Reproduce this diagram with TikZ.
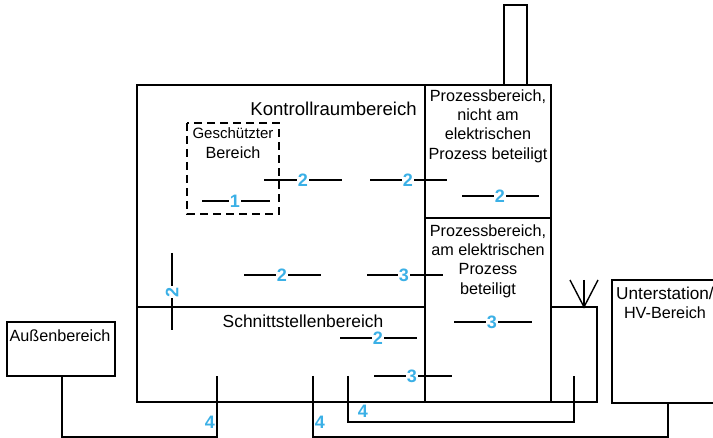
\documentclass[tikz,border=0pt]{standalone}
\usepackage{fontspec}
\setmainfont{Liberation Sans}
\definecolor{numblue}{HTML}{3BB0E6}
\begin{document}
\begin{tikzpicture}[x=1pt,y=-1pt,
  thickbox/.style={line width=2.8pt},
  midline/.style={line width=2.3pt},
  thinline/.style={line width=1.4pt},
  link/.style={line width=1.4pt},
  num/.style={text=numblue, font=\fontsize{18}{18}\selectfont\bfseries, inner sep=0.8pt, fill=white},
  lbl/.style={font=\fontsize{16.2}{19.3}\selectfont, align=center, inner sep=0pt},
]
\useasboundingbox (0,0) rectangle (713,438);
\begin{scope}
\clip (0,0) rectangle (713,438);
% main areas
\draw[thickbox] (137,85) rectangle (551,402);
\draw[thickbox] (425,85) -- (425,402);
\draw[thickbox] (425,218) -- (551,218);
\draw[midline] (137,307) -- (425,307);
% chimney
\draw[thinline] (504,85) -- (504,5) -- (527,5) -- (527,85);
% antenna box
\draw[thinline] (551,307) -- (597,307) -- (597,402) -- (551,402);
\coordinate (ap) at (584,307);
\coordinate (al) at (570,280);
\coordinate (ar) at (598,280);
\coordinate (am) at (584,280);
\draw[thinline] (al) -- (ap) -- (ar);
\draw[thinline] (am) -- (ap);
% protected area
\draw[thinline, dash pattern=on 8pt off 5pt] (187,123) rectangle (279,214);
% texts
\node[lbl, anchor=east] (kr) at (417,109) {\fontsize{18.6}{21}\selectfont Kontrollraumbereich};
\node[lbl] (gb) at (233,143) {\fontsize{15}{17.5}\selectfont Geschützter\\Bereich};
\node[lbl] (pn) at (488,126) {Prozessbereich,\\nicht am\\elektrischen\\Prozess beteiligt};
\node[lbl] (pa) at (488,261) {Prozessbereich,\\am elektrischen\\Prozess\\beteiligt};
\node[lbl] (sb) at (303,321) {\fontsize{17.4}{20}\selectfont Schnittstellenbereich};
% outside boxes
\draw[thinline] (612,280) rectangle (730,403);
\node[lbl] (us) at (665,303) {\fontsize{17.2}{20}\selectfont Unterstation/\\HV-Bereich};
\draw[thinline] (7,322) rectangle (115,376);
\node[lbl] (ab) at (60,336) {Außenbereich};
% links
\node[num] (l1) at (235,201) {1};
\draw[link] (202,201) -- (l1) -- (270,201);
\node[num] (l2a) at (303,180) {2};
\draw[link] (264,180) -- (l2a) -- (342,180);
\node[num] (l2b) at (408,180) {2};
\draw[link] (370,180) -- (l2b) -- (447,180);
\node[num] (l2c) at (500,196) {2};
\draw[link] (462,196) -- (l2c) -- (539,196);
\node[num, rotate=90] (l2d) at (172,292) {2};
\draw[link] (172,253) -- (l2d) -- (172,330);
\node[num] (l2e) at (282,275) {2};
\draw[link] (244,275) -- (l2e) -- (321,275);
\node[num] (l3a) at (404,275) {3};
\draw[link] (367,275) -- (l3a) -- (443,275);
\node[num] (l2f) at (378,338) {2};
\draw[link] (340,338) -- (l2f) -- (417,338);
\node[num] (l3b) at (412,376) {3};
\draw[link] (374,376) -- (l3b) -- (452,376);
\node[num] (l3c) at (492,322) {3};
\draw[link] (454,322) -- (l3c) -- (532,322);
% lower connections
\coordinate (aub) at (62,376);
\coordinate (c1) at (62,437);
\coordinate (c2) at (217,437);
\coordinate (c3) at (217,376);
\draw[thinline] (aub) -- (c1) -- (c2) -- (c3);
\coordinate (d1) at (313,376);
\coordinate (d2) at (313,437);
\coordinate (d3) at (668,437);
\coordinate (d4) at (668,403);
\draw[thinline] (d1) -- (d2) -- (d3) -- (d4);
\coordinate (e1) at (348,376);
\coordinate (e2) at (348,422);
\coordinate (e3) at (574,422);
\coordinate (e4) at (574,376);
\draw[thinline] (e1) -- (e2) -- (e3) -- (e4);
\node[num, fill=none] (f1) at (210,422) {4};
\node[num, fill=none] (f2) at (320,422) {4};
\node[num, fill=none] (f3) at (363,411) {4};
\end{scope}
\end{tikzpicture}
\end{document}
